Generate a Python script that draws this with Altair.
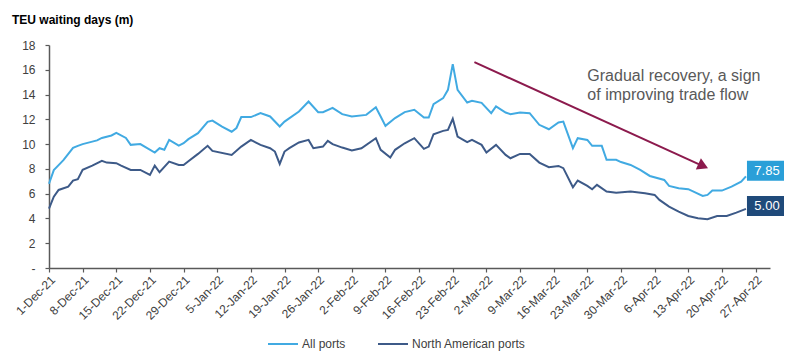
import altair as alt
import pandas as pd

START = pd.Timestamp("2021-12-01")

# x positions read as days since 1-Dec-21
all_ports_days = [0, 1, 2, 3, 5, 6, 7, 9, 10, 11, 13, 14, 16, 17, 19, 22, 23, 24, 25, 27, 28, 29,
                  31, 33, 34, 36, 38, 39, 40, 42, 44, 46, 48, 49, 52, 54, 56, 57, 59, 61, 63, 66,
                  68, 69, 70, 72, 74, 76, 78, 79, 80, 82, 83, 84, 85, 87, 88, 90, 92, 93, 95, 96,
                  98, 100, 102, 104, 106, 107, 109, 110, 112, 113, 115, 116, 118, 119, 121, 123,
                  125, 128, 129, 131, 133, 136, 137, 138, 140, 142, 144, 145]
all_ports_vals = [6.8, 7.9, 8.3, 8.7, 9.7, 9.86, 10.0, 10.2, 10.3, 10.5, 10.7, 10.9, 10.5, 9.94,
                  10.0, 9.32, 9.67, 9.54, 10.34, 9.88, 10.07, 10.4, 10.88, 11.8, 11.9, 11.42, 11.0,
                  11.3, 12.18, 12.18, 12.5, 12.23, 11.42, 11.82, 12.63, 13.44, 12.58, 12.58, 12.93,
                  12.42, 12.23, 12.36, 12.98, 12.23, 11.47, 12.1, 12.58, 12.77, 12.15, 12.15, 13.23,
                  13.71, 14.38, 16.46, 14.38, 13.36, 13.5, 13.33, 12.5, 13.04, 12.55, 12.42, 12.55,
                  12.5, 11.56, 11.2, 11.74, 11.82, 9.67, 10.48, 10.34, 9.86, 9.86, 8.73, 8.73, 8.55,
                  8.32, 7.92, 7.43, 7.11, 6.63, 6.44, 6.36, 5.82, 5.9, 6.25, 6.25, 6.57, 6.97, 7.4]

na_ports_days = [0, 1, 2, 4, 5, 6, 7, 9, 11, 12, 14, 15, 17, 19, 21, 22, 23, 25, 27, 28, 29, 31,
                 33, 34, 38, 40, 42, 44, 46, 47, 48, 49, 50, 52, 54, 55, 57, 58, 59, 61, 63, 65,
                 68, 69, 71, 72, 74, 76, 78, 79, 80, 82, 83, 84, 85, 87, 88, 90, 91, 93, 95, 96,
                 98, 100, 102, 104, 106, 107, 109, 110, 112, 113, 114, 116, 118, 121, 124, 126,
                 127, 129, 131, 133, 135, 137, 139, 141, 143, 145]
na_ports_vals = [4.8, 5.76, 6.3, 6.57, 7.06, 7.17, 7.92, 8.27, 8.65, 8.51, 8.46, 8.27, 7.92, 7.92,
                 7.52, 8.27, 7.73, 8.59, 8.32, 8.32, 8.62, 9.21, 9.86, 9.45, 9.13, 9.8, 10.34, 9.94,
                 9.67, 9.4, 8.4, 9.4, 9.67, 10.13, 10.34, 9.67, 9.8, 10.26, 10.0, 9.72, 9.48, 9.67,
                 10.48, 9.54, 8.91, 9.54, 10.07, 10.48, 9.62, 9.8, 10.8, 11.07, 11.15, 12.04, 10.61,
                 10.16, 10.34, 9.94, 9.32, 9.94, 9.13, 8.86, 9.21, 9.21, 8.51, 8.14, 8.24, 8.06,
                 6.52, 7.06, 6.63, 6.36, 6.71, 6.17, 6.08, 6.17, 6.03, 5.9, 5.5, 4.96, 4.55, 4.2,
                 4.01, 3.93, 4.2, 4.2, 4.47, 4.77]

series_names = ["All ports", "North American ports"]
line_colors = ["#41aae2", "#3d5a88"]
box_colors = ["#2a9fd8", "#1f4a7a"]
end_values = [7.85, 5.00]
end_labels = ["7.85", "5.00"]

tick_days = list(range(0, 148, 7))
y_ticks = list(range(0, 19, 2))

annotation_lines = ["Gradual recovery, a sign", "of improving trade flow"]
annotation_day = 112
annotation_y = [15.46, 13.98]

arrow_start = (88.5, 16.62)
arrow_end = (135.5, 8.32)
arrow_head = (136.1, 8.23)

FONT = "Liberation Sans"


def to_date(d):
    return START + pd.to_timedelta(d, unit="D")


df = pd.concat([
    pd.DataFrame({"date": [to_date(d) for d in all_ports_days], "value": all_ports_vals,
                  "series": series_names[0]}),
    pd.DataFrame({"date": [to_date(d) for d in na_ports_days], "value": na_ports_vals,
                  "series": series_names[1]}),
])

last_day = max(all_ports_days[-1], na_ports_days[-1])
end_df = pd.DataFrame({"date": [to_date(last_day)] * 2, "value": end_values,
                       "label": end_labels, "box": box_colors})
ann_df = pd.DataFrame({"date": [to_date(annotation_day)] * 2, "value": annotation_y,
                       "text": annotation_lines})
arrow_df = pd.DataFrame({"date": [to_date(arrow_start[0])], "value": [arrow_start[1]],
                         "d2": [to_date(arrow_end[0])], "v2": [arrow_end[1]]})
head_df = pd.DataFrame({"date": [to_date(arrow_head[0])], "value": [arrow_head[1]]})


def dt(ts):
    return alt.DateTime(year=ts.year, month=ts.month, date=ts.day)


tick_vals = [dt(to_date(d)) for d in tick_days]
x_scale = alt.Scale(domain=[dt(pd.Timestamp("2021-12-01")), dt(pd.Timestamp("2022-04-30"))])
y_scale = alt.Scale(domain=[0, 18], nice=False)

x_axis = alt.Axis(values=tick_vals, format="%-d-%b-%y", labelAngle=-45, labelFont=FONT,
                  labelFontSize=12, labelColor="#404040", domainColor="#595959",
                  domainWidth=1.5, tickColor="#595959", tickSize=4, tickWidth=1.2,
                  grid=False, title=None, labelPadding=2, labelOverlap=False,
                  labelBound=False)
y_axis = alt.Axis(values=y_ticks, labelExpr="datum.value == 0 ? '-' : datum.label",
                  labelFont=FONT, labelFontSize=12, labelColor="#404040",
                  domainColor="#595959", domainWidth=1.5, tickColor="#595959", tickSize=4,
                  tickWidth=1.2, labelPadding=10, grid=False, title=None, labelOverlap=False)

X = alt.X("date:T", scale=x_scale, axis=x_axis)
Y = alt.Y("value:Q", scale=y_scale, axis=y_axis)

lines = alt.Chart(df).mark_line(strokeWidth=2).encode(
    x=X, y=Y,
    color=alt.Color("series:N", scale=alt.Scale(domain=series_names, range=line_colors),
                    legend=alt.Legend(title=None, orient="none", legendX=218, legendY=283,
                                      direction="horizontal", symbolType="stroke",
                                      symbolSize=900, symbolStrokeWidth=2, labelFont=FONT,
                                      labelFontSize=12, labelColor="#404040",
                                      columnPadding=28, labelOffset=3)),
    order="date:T",
)

arrow = alt.Chart(arrow_df).mark_rule(color="#8c1a4d", strokeWidth=2).encode(
    x=X, x2="d2:T", y=Y, y2="v2:Q")

head = alt.Chart(head_df).mark_point(shape="triangle-right", angle=24.5, filled=True,
                                     size=150, color="#8c1a4d", opacity=1).encode(x=X, y=Y)

ann = alt.Chart(ann_df).mark_text(align="left", baseline="middle", font=FONT, fontSize=16,
                                  color="#595959").encode(x=X, y=Y, text="text:N")

boxes = alt.Chart(end_df).mark_point(shape="M-1,-0.5H1V0.5H-1Z", size=1600, filled=True,
                                     opacity=1, xOffset=21).encode(
    x=X, y=Y, color=alt.Color("box:N", scale=None))

box_text = alt.Chart(end_df).mark_text(font=FONT, fontSize=13, color="white", dx=21,
                                       align="center", baseline="middle").encode(
    x=X, y=Y, text="label:N")

chart = alt.layer(lines, arrow, head, ann, boxes, box_text).properties(
    width=721, height=223,
    autosize="none",
    padding={"left": 41, "top": 37, "right": 14, "bottom": 83},
    title=alt.TitleParams("TEU waiting days (m)", anchor="start", frame="group", dx=-37,
                          font=FONT, fontSize=12, fontWeight="bold", color="black",
                          offset=12),
).configure_view(stroke=None)

chart.save("out.html", embed_options={"renderer": "svg", "actions": False})
